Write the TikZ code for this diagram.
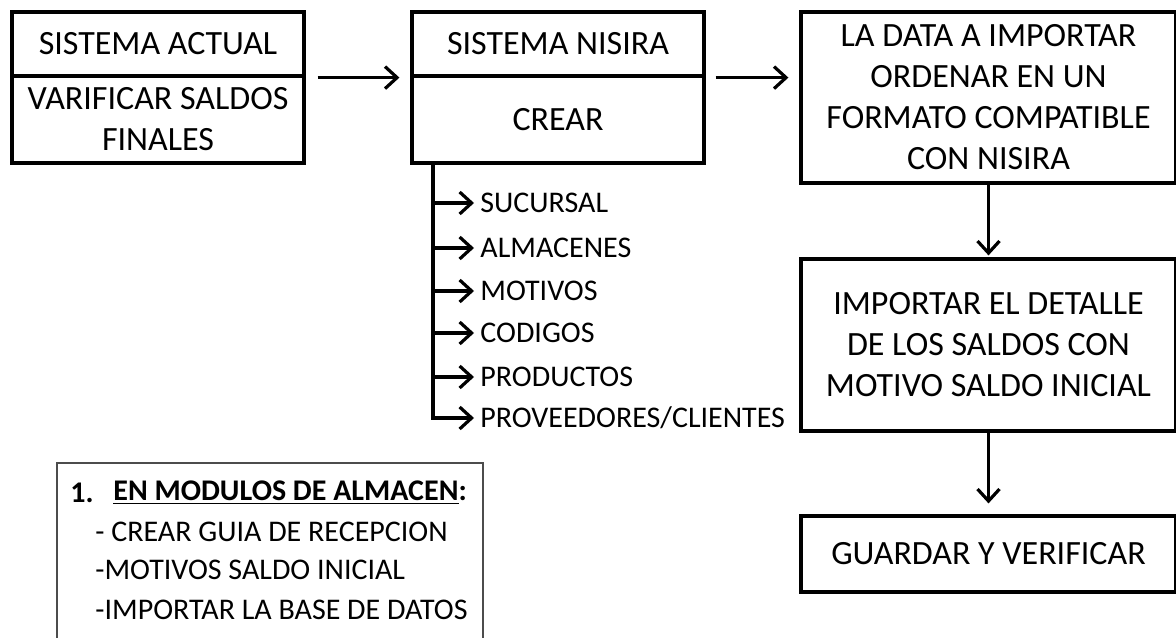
\documentclass[tikz,border=0pt]{standalone}
\usepackage{fontspec}
\setmainfont{Carlito}
\usetikzlibrary{arrows.meta}

\tikzset{
  box/.style={draw, line width=1.6pt, inner sep=0pt, align=center,
    font=\fontsize{17}{20.5}\selectfont},
  arr/.style={line width=1.6pt, -{Straight Barb[length=6pt,width=11pt]}},
  item/.style={inner xsep=3pt, inner ysep=0pt, anchor=west, font=\fontsize{15}{18}\selectfont},
  nota/.style={anchor=west, inner sep=0pt, font=\fontsize{15}{18}\selectfont}
}

\begin{document}
\begin{tikzpicture}[x=0.5pt,y=-0.5pt]
\useasboundingbox (0,0) rectangle (1176,637);

\node[box, minimum width=146pt, minimum height=32pt](sa) at (158,44) {SISTEMA ACTUAL};
\node[box, minimum width=146pt, minimum height=43.5pt](sv) at (158,119.5) {VARIFICAR SALDOS\\FINALES};

\node[box, minimum width=146pt, minimum height=32pt](sn) at (558,44) {SISTEMA NISIRA};
\node[box, minimum width=146pt, minimum height=43.5pt](sc) at (558,119.5) {CREAR};

\node[box, minimum width=187.5pt, minimum height=85.5pt](data) at (988.5,97.5) {LA DATA A IMPORTAR\\ORDENAR EN UN\\FORMATO COMPATIBLE\\CON NISIRA};
\node[box, minimum width=187.5pt, minimum height=86pt](imp) at (988.5,345) {IMPORTAR EL DETALLE\\DE LOS SALDOS CON\\MOTIVO SALDO INICIAL};
\node[box, minimum width=187.5pt, minimum height=38pt](guar) at (988.5,554) {GUARDAR Y VERIFICAR};

\draw[arr, shorten <=6pt, shorten >=5.5pt] (sa.south east) -- (sn.south west);
\draw[arr, shorten <=5pt, shorten >=5.5pt] (sn.south east) -- (sn.south east -| data.west);
\draw[arr, shorten >=1pt] (data) -- (imp);
\draw[arr, shorten >=5.5pt] (imp) -- (guar);

% lista de CREAR
\coordinate (tronco) at (433,163);
\foreach \i/\y/\txt in {1/203/SUCURSAL, 2/248/ALMACENES, 3/291/MOTIVOS,
    4/333/CODIGOS, 5/377/PRODUCTOS, 6/418/{PROVEEDORES/CLIENTES}} {
  \coordinate (p\i) at (433,\y);
  \node[item](b\i) at (474,\y) {\txt};
  \draw[arr] (p\i) -- (b\i.west);
}
\draw[line width=1.6pt] (tronco) -- ([yshift=-0.8pt]p6);

% nota
\node[draw=black!70, line width=0.6pt, minimum width=213pt, minimum height=98.5pt, inner sep=0pt](caja) at (270,561.5) {};
\node[nota](n0) at (70,493) {\bfseries 1.};
\node[nota](n1) at (113,493) {\bfseries\underline{EN MODULOS DE ALMACEN}:};
\node[nota](n2) at (95,532) {- CREAR GUIA DE RECEPCION};
\node[nota](n3) at (95,570) {-MOTIVOS SALDO INICIAL};
\node[nota](n4) at (95,610) {-IMPORTAR LA BASE DE DATOS};

\end{tikzpicture}
\end{document}
